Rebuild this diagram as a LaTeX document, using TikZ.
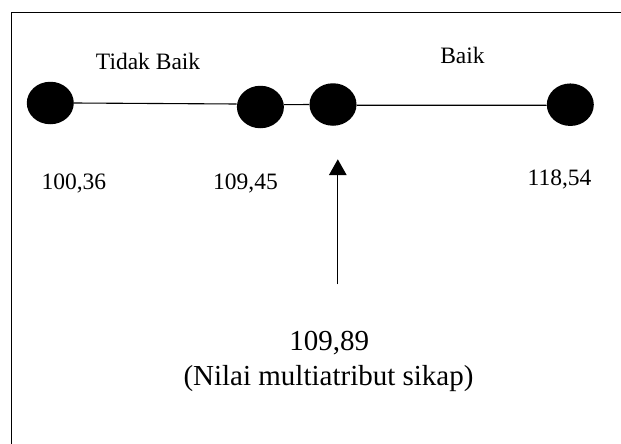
\documentclass[tikz,border=0pt]{standalone}
\usepackage{fontspec}
\setmainfont{Liberation Serif}
\usetikzlibrary{shapes.geometric,arrows.meta}
\tikzset{
  dot/.style={ellipse, fill=black, draw=none, inner sep=0pt,
              minimum width=47pt, minimum height=42.5pt},
  link/.style={draw=black, line width=1.1pt},
  val/.style={anchor=base, inner sep=0pt, font=\fontsize{23.5}{26}\selectfont},
  big/.style={anchor=base, inner sep=0pt, font=\fontsize{29}{33}\selectfont},
  pointer/.style={draw=black, line width=1.2pt, -{Triangle[width=17.4pt,length=15.7pt]}}
}
\begin{document}
\begin{tikzpicture}[x=1pt, y=-1pt]
  \useasboundingbox (0,0) rectangle (621,444);
  \clip (0,0) rectangle (621,444);
  % frame: only the top and left edges fall inside the page
  \draw[line width=1.5pt] (11.7,12.7) rectangle (680,500);

  % scale points
  \node[dot] (p1) at (50.3,103) {};
  \node[dot] (p2) at (260.4,107) {};
  \node[dot] (p3) at (333,104.5) {};
  \node[dot] (p4) at (570.3,104.7) {};
  \draw[link] (p1.east) -- ([yshift=3pt]p2.west);
  \draw[link] ([yshift=2.3pt]p2.east) -- (p3.west);
  \draw[link] ([yshift=-0.7pt]p3.east) -- ([yshift=-0.6pt]p4.west);

  % category labels
  \node[val] (tb) at (148.1,70) {Tidak Baik};
  \node[val] (bk) at (462.5,63.3) {Baik};

  % scale values
  \node[val] (v1) at (73.9,189.3) {100,36};
  \node[val] (v2) at (245.5,189.3) {109,45};
  \node[val] (v3) at (559.5,185.7) {118,54};

  % resulting attitude score
  \node[big] (res) at (329.3,350) {109,89};
  \node[big] (cap) at (328.5,385) {(Nilai multiatribut sikap)};
  \coordinate (tail) at (337.8,284.3);
  \coordinate (tip) at (337.8,159.3);
  \draw[pointer] (tail) -- (tip);
\end{tikzpicture}
\end{document}
